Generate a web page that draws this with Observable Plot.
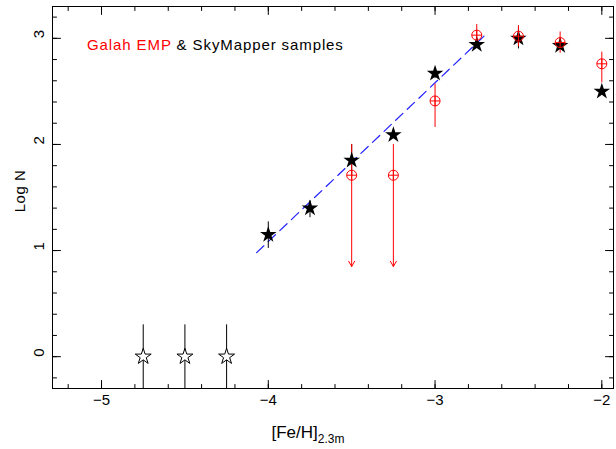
<!DOCTYPE html>
<html><head><meta charset="utf-8">
<script src="https://cdn.jsdelivr.net/npm/d3@7"></script>
<script src="https://cdn.jsdelivr.net/npm/@observablehq/plot@0.6"></script>
<style>body{margin:0;background:#fff} svg{display:block}</style>
</head><body><div id="chart"></div>
<script>
// SkyMapper (filled stars)
const starFeH   = [-4.0, -3.75, -3.5, -3.25, -3.0, -2.75, -2.5, -2.25, -2.0];
const starLogN  = [1.15, 1.40, 1.85, 2.09, 2.67, 2.94, 3.00, 2.93, 2.50];
const starErrLo = [1.02, 1.31, 1.70, null, 2.62, null, 2.90, null, null];
const starErrHi = [1.27, 1.47, 2.00, null, 2.72, null, 3.10, null, null];
// Open stars (empty bins)
const openFeH   = [-4.75, -4.5, -4.25];
const openLogN  = [0, 0, 0];
const openErrLo = [-0.3, -0.3, -0.3];
const openErrHi = [0.3, 0.3, 0.3];
// Galah EMP (red circles)
const galahFeH   = [-3.5, -3.25, -3.0, -2.75, -2.5, -2.25, -2.0];
const galahLogN  = [1.71, 1.71, 2.41, 3.03, 3.02, 2.96, 2.76];
const galahErrLo = [null, null, 2.16, 2.93, 2.92, 2.86, 2.58];
const galahErrHi = [null, null, 2.57, 3.13, 3.12, 3.06, 2.87];
// Galah upper limits (arrows)
const limitFeH  = [-3.5, -3.25];
const limitTop  = [2.0, 2.0];
const limitBot  = [0.85, 0.85];
// Fit line
const fitFeH  = [-4.07, -2.70];
const fitLogN = [0.98, 3.03];
// Ticks
const xTicks = [-5, -4, -3, -2];
const yTicks = [0, 1, 2, 3];
const xMinor = [-5.2,-5.0,-4.8,-4.6,-4.4,-4.2,-4.0,-3.8,-3.6,-3.4,-3.2,-3.0,-2.8,-2.6,-2.4,-2.2,-2.0];
const yMinor = [-0.2,0,0.2,0.4,0.6,0.8,1,1.2,1.4,1.6,1.8,2,2.2,2.4,2.6,2.8,3,3.2];

const stars = starFeH.map((x, i) => ({x, y: starLogN[i], lo: starErrLo[i], hi: starErrHi[i]}));
const opens = openFeH.map((x, i) => ({x, y: openLogN[i], lo: openErrLo[i], hi: openErrHi[i]}));
const galah = galahFeH.map((x, i) => ({x, y: galahLogN[i], lo: galahErrLo[i], hi: galahErrHi[i]}));
const limits = limitFeH.map((x, i) => ({x, y1: limitTop[i], y2: limitBot[i]}));
const fit = fitFeH.map((x, i) => ({x, y: fitLogN[i]}));

const circlePlus = {
  draw(ctx, size) {
    const r = Math.sqrt(size / Math.PI);
    ctx.moveTo(r, 0); ctx.arc(0, 0, r, 0, 2 * Math.PI);
    ctx.moveTo(-r, 0); ctx.lineTo(r, 0);
    ctx.moveTo(0, -r); ctx.lineTo(0, r);
  }
};
const tickShape = {draw(ctx, l) { ctx.moveTo(0, 0); ctx.lineTo(0, -l); }};
const tk = (data, ch, anchor, rotate, length) =>
  Plot.vector(data, {[ch]: d => d, frameAnchor: anchor, rotate, length, anchor: "start", shape: tickShape, stroke: "#000", strokeWidth: 1});

const font = "Liberation Sans, Arial, sans-serif";
const plot = Plot.plot({
  width: 616, height: 449,
  marginLeft: 52, marginRight: 3, marginTop: 6, marginBottom: 61,
  style: {fontFamily: font, fontSize: "15px", background: "#fff", overflow: "visible"},
  x: {domain: [-5.294, -1.93], axis: null},
  y: {domain: [-0.3, 3.3], axis: null},
  marks: [
    tk(xMinor, "x", "bottom", 0, 4),
    tk(xMinor, "x", "top", 180, 4),
    tk(xTicks, "x", "bottom", 0, 8),
    tk(xTicks, "x", "top", 180, 8),
    tk(yMinor, "y", "left", 90, 4),
    tk(yMinor, "y", "right", -90, 4),
    tk(yTicks, "y", "left", 90, 8),
    tk(yTicks, "y", "right", -90, 8),
    Plot.text(xTicks, {x: d => d, frameAnchor: "bottom", dy: 16, text: d => "\u2212" + Math.abs(d), fill: "#000", fontSize: 15}),
    Plot.text(yTicks, {y: d => d, frameAnchor: "left", dx: -13, rotate: -90, text: d => String(d), fill: "#000", fontSize: 15}),
    Plot.frame({stroke: "#000"}),
    Plot.line(fit, {x: "x", y: "y", stroke: "#2020ff", strokeWidth: 1.2, strokeDasharray: "10,6"}),
    Plot.ruleX(opens, {x: "x", y1: "lo", y2: "hi", stroke: "#000", clip: true}),
    Plot.ruleX(stars.filter(d => d.lo != null), {x: "x", y1: "lo", y2: "hi", stroke: "#000"}),
    Plot.ruleX(galah.filter(d => d.lo != null), {x: "x", y1: "lo", y2: "hi", stroke: "#ff0000"}),
    Plot.arrow(limits, {x1: "x", x2: "x", y1: "y1", y2: "y2", stroke: "#ff0000", strokeWidth: 1, headLength: 9, headAngle: 60}),
    Plot.dot(stars, {x: "x", y: "y", symbol: "star", r: 5.2, fill: "#000", stroke: "none"}),
    Plot.dot(opens, {x: "x", y: "y", symbol: "star", r: 5.0, fill: "#fff", stroke: "#000", strokeWidth: 1}),
    Plot.dot(galah, {x: "x", y: "y", symbol: circlePlus, r: 5, fill: "none", stroke: "#ff0000", strokeWidth: 1})
  ]
});
document.getElementById("chart").appendChild(plot);

const svg = d3.select(plot);
// legend
const leg = svg.append("text").attr("x", 87).attr("y", 50).attr("text-anchor", "start")
  .attr("font-family", font).attr("font-size", 15).attr("letter-spacing", 0.9);
leg.append("tspan").attr("fill", "#ff0000").text("Galah EMP");
leg.append("tspan").attr("fill", "#000").text(" & SkyMapper samples");
// y label
svg.append("text").attr("transform", "translate(25,191) rotate(-90)")
  .attr("text-anchor", "middle").attr("font-family", font).attr("font-size", 15)
  .attr("letter-spacing", 0.5).attr("fill", "#000").text("Log N");
// x label
const xl = svg.append("text").attr("x", 308).attr("y", 438)
  .attr("text-anchor", "middle").attr("font-family", font).attr("fill", "#000");
xl.append("tspan").attr("font-size", 17).text("[Fe/H]");
xl.append("tspan").attr("font-size", 12).attr("dy", 5).text("2.3m");
</script></body></html>
